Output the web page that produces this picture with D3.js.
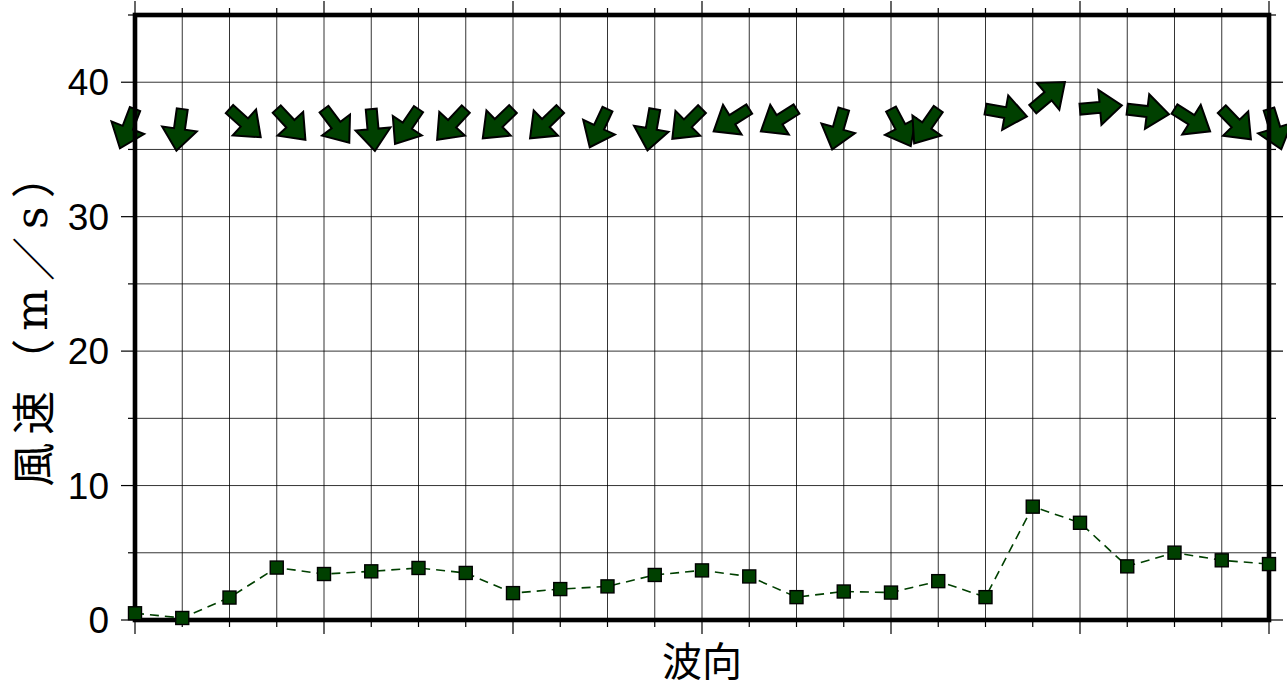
<!DOCTYPE html>
<html>
<head>
<meta charset="utf-8">
<script src="https://cdn.jsdelivr.net/npm/d3@7"></script>
<style>
  html, body { margin: 0; padding: 0; background: #fff; }
  svg { display: block; }
</style>
</head>
<body>
<div id="chart"></div>
<script>
// points along the x axis (no labels shown)
const points = d3.range(25);
// wind speed (m/s) at each point
const speeds = [0.5, 0.15, 1.67, 3.9, 3.42, 3.62, 3.87, 3.5, 2.0, 2.3, 2.5, 3.35, 3.69,
  3.24, 1.7, 2.12, 2.04, 2.89, 1.7, 8.43, 7.23, 3.99, 5.01, 4.44, 4.16];
// direction the arrow points to, degrees clockwise from north
const directions = [201, 188, 132, 137, 143, 175, 214, 223, 226, 226, 205, 190, 225,
  238, 238, 196, 152, 215, 100, 50, 85, 97, 122, 136, 163];
// arrows are drawn at this level
const arrowLevel = 38;
const yTickLabels = [0, 10, 20, 30, 40];

const width = 1287;
const height = 686;
const plotLeft = 135, plotRight = 1269, plotTop = 15, plotBottom = 620;
const green = "#004000";

const svg = d3.select("#chart")
  .append("svg")
  .attr("width", width)
  .attr("height", height);

const x = d3.scaleLinear().domain([0, 24]).range([plotLeft, plotRight]);
const y = d3.scaleLinear().domain([0, 45]).range([plotBottom, plotTop]);

// grid
const grid = svg.append("g").attr("stroke", "#000").attr("stroke-width", 0.8);
grid.selectAll("line.gx")
  .data(points)
  .enter().append("line")
  .attr("x1", d => x(d)).attr("x2", d => x(d))
  .attr("y1", plotTop).attr("y2", plotBottom);
grid.selectAll("line.gy")
  .data(d3.range(0, 46, 5))
  .enter().append("line")
  .attr("y1", d => y(d)).attr("y2", d => y(d))
  .attr("x1", plotLeft).attr("x2", plotRight);

// ticks on all four sides (major every 4 on x, every 10 on y)
const tickLen = d => d.major ? 14 : 7;
const xTicks = points.map(d => ({ v: d, major: d % 4 === 0 }));
const yTicks = d3.range(0, 46, 5).map(d => ({ v: d, major: d % 10 === 0 }));
const ticks = svg.append("g").attr("stroke", "#000").attr("stroke-width", 1.2);
ticks.selectAll("line.tb").data(xTicks).enter().append("line")
  .attr("x1", d => x(d.v)).attr("x2", d => x(d.v))
  .attr("y1", plotBottom).attr("y2", d => plotBottom + tickLen(d));
ticks.selectAll("line.tt").data(xTicks).enter().append("line")
  .attr("x1", d => x(d.v)).attr("x2", d => x(d.v))
  .attr("y1", plotTop).attr("y2", d => plotTop - tickLen(d));
ticks.selectAll("line.tl").data(yTicks).enter().append("line")
  .attr("y1", d => y(d.v)).attr("y2", d => y(d.v))
  .attr("x1", plotLeft).attr("x2", d => plotLeft - tickLen(d));
ticks.selectAll("line.tr").data(yTicks).enter().append("line")
  .attr("y1", d => y(d.v)).attr("y2", d => y(d.v))
  .attr("x1", plotRight).attr("x2", d => plotRight + tickLen(d));

// y tick labels
svg.append("g").selectAll("text")
  .data(yTickLabels)
  .enter().append("text")
  .attr("x", 109)
  .attr("y", d => y(d) + 13.2)
  .attr("text-anchor", "end")
  .style("font-family", "'Liberation Sans', Arial, sans-serif")
  .style("font-size", "37px")
  .text(d => d);

// wind arrows
const L = 42, sw = 5.5, hw = 17.5, hl = 22;
const arrowPath = `M0,${-sw}L${L - hl},${-sw}L${L - hl},${-hw}L${L},0L${L - hl},${hw}L${L - hl},${sw}L0,${sw}Z`;
svg.append("g").selectAll("path")
  .data(points)
  .enter().append("path")
  .attr("d", arrowPath)
  .attr("transform", d => `translate(${x(d)},${y(arrowLevel)}) rotate(${directions[d] - 90})`)
  .style("fill", green)
  .style("stroke", "#000")
  .style("stroke-width", 2)
  .style("stroke-linejoin", "miter");

// frame
svg.append("rect")
  .attr("x", plotLeft).attr("y", plotTop)
  .attr("width", plotRight - plotLeft).attr("height", plotBottom - plotTop)
  .style("fill", "none")
  .style("stroke", "#000")
  .style("stroke-width", 4.6);

// speed line
const line = d3.line().x(d => x(d)).y(d => y(speeds[d]));
svg.append("path")
  .datum(points)
  .attr("d", line)
  .style("fill", "none")
  .style("stroke", green)
  .style("stroke-width", 1.6)
  .style("stroke-dasharray", "9,6");

const sq = 13;
svg.append("g").selectAll("rect")
  .data(points)
  .enter().append("rect")
  .attr("x", d => x(d) - sq / 2)
  .attr("y", d => y(speeds[d]) - sq / 2)
  .attr("width", sq).attr("height", sq)
  .style("fill", green)
  .style("stroke", "#000")
  .style("stroke-width", 1.4);

// axis titles
svg.append("text")
  .attr("x", (plotLeft + plotRight) / 2)
  .attr("y", 659)
  .attr("text-anchor", "middle")
  .attr("dominant-baseline", "central")
  .style("font-family", "'Noto Sans CJK JP', sans-serif")
  .style("font-size", "40px")
  .text("波向");

const yTitle = svg.append("text")
  .attr("transform", `translate(31,${(plotTop + plotBottom) / 2 - 1}) rotate(-90)`)
  .attr("text-anchor", "middle")
  .attr("dominant-baseline", "central")
  .style("font-family", "'Noto Sans CJK JP', sans-serif")
  .style("font-size", "44px")
  .style("letter-spacing", "8px");
yTitle.append("tspan").text("風速（");
yTitle.append("tspan").style("font-family", "'DejaVu Serif', serif").text("m");
yTitle.append("tspan").text("／");
yTitle.append("tspan").style("font-family", "'DejaVu Serif', serif").text("s");
yTitle.append("tspan").text("）");
</script>
</body>
</html>
